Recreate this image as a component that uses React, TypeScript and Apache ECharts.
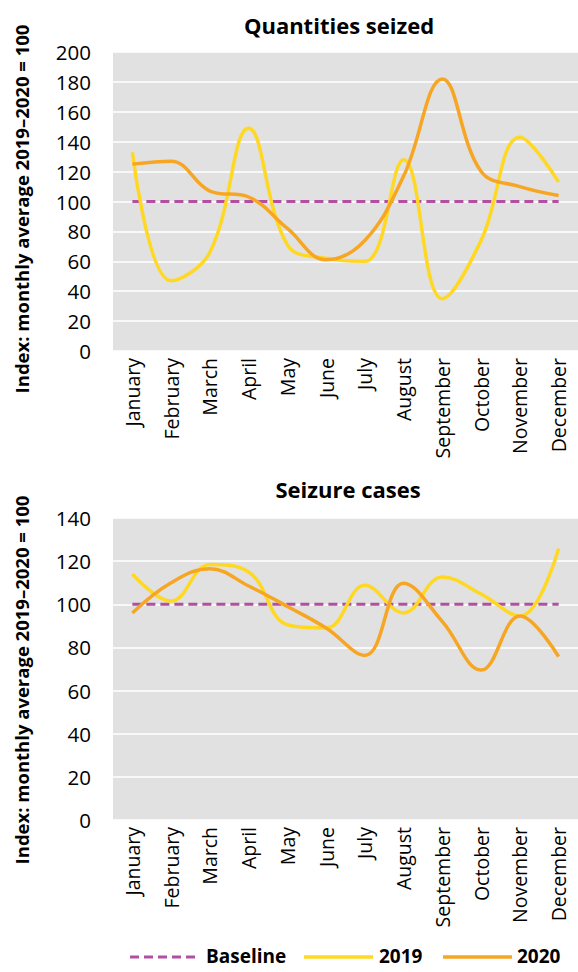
import React, { useEffect, useRef } from "react";
import * as echarts from "echarts";

const months = ["January", "February", "March", "April", "May", "June", "July", "August", "September", "October", "November", "December"];

const qty2019 = [133, 47, 66, 149, 71, 62, 60, 128, 35, 74, 143, 113];
const qty2020 = [125, 127, 107, 103, 82, 61, 74, 117, 182, 120, 110, 104];
const cases2019 = [114, 101.5, 118.5, 115, 90.5, 89, 108.8, 96, 112.7, 104.7, 94.5, 125.9];
const cases2020 = [96, 110, 116.5, 108.5, 99, 89, 76.3, 109.8, 92, 69.5, 94.6, 75.7];
const baseline = [100, 100, 100, 100, 100, 100, 100, 100, 100, 100, 100, 100];

const titles = ["Quantities seized", "Seizure cases"];
const yTitle = "Index: monthly average 2019–2020 = 100";
const legendNames = ["Baseline", "2019", "2020"];

const FONT = "'Open Sans', sans-serif";
const C_BASE = "#B24FA0";
const C_2019 = "#FFD824";
const C_2020 = "#F7A623";
const DASH = [9, 5];

export default function App() {
  const ref = useRef<HTMLDivElement>(null);
  useEffect(() => {
    if (!ref.current) return;
    const chart = echarts.init(ref.current, null, { renderer: "svg" });
    const grids = [
      { left: 113, top: 52, width: 478, height: 299 },
      { left: 113, top: 518, width: 478, height: 302 },
    ];
    const xAxis = grids.map((_, i) => ({
      type: "category",
      gridIndex: i,
      data: months,
      boundaryGap: true,
      axisLine: { show: false },
      axisTick: { show: false },
      axisLabel: { rotate: 90, fontFamily: FONT, fontSize: 19.5, color: "#000", margin: 7, interval: 0 },
    }));
    const yMax = [200, 140];
    const yAxis = grids.map((_, i) => ({
      type: "value",
      gridIndex: i,
      min: 0,
      max: yMax[i],
      interval: 20,
      axisLine: { show: false },
      axisTick: { show: false },
      axisLabel: { fontFamily: FONT, fontSize: 20.5, color: "#000", margin: 22 },
      splitLine: { lineStyle: { color: "#ffffff", width: 1.5 } },
    }));
    const mk = (name: string, data: number[], idx: number, color: string, dashed: boolean) => ({
      name,
      type: "line",
      xAxisIndex: idx,
      yAxisIndex: idx,
      data,
      smooth: dashed ? false : 0.4,
      symbol: "none",
      lineStyle: { color, width: dashed ? 3 : 3.5, type: dashed ? DASH : "solid" },
      itemStyle: { color },
      z: dashed ? 2 : 3,
    });
    const legendX = [
      { line: [130, 200], text: 206 },
      { line: [304, 373], text: 379 },
      { line: [443, 512], text: 517 },
    ];
    const legendColors = [C_BASE, C_2019, C_2020];
    const LY = 956;
    const legendGraphics: any[] = [];
    legendX.forEach((p, i) => {
      legendGraphics.push({
        type: "line",
        shape: { x1: p.line[0], y1: LY + 1, x2: p.line[1], y2: LY + 1 },
        style: { stroke: legendColors[i], lineWidth: i === 0 ? 3 : 3.5, lineDash: i === 0 ? DASH : null },
      });
      legendGraphics.push({
        type: "text",
        x: p.text,
        y: LY,
        style: { text: legendNames[i], fontFamily: FONT, fontSize: 19, fontWeight: "bold", fill: "#000", textAlign: "left", textVerticalAlign: "middle" },
      });
    });
    const option = {
      animation: false,
      grid: grids.map((g) => ({ ...g, show: true, backgroundColor: "#E1E1E1", borderWidth: 0 })),
      xAxis,
      yAxis,
      series: [
        mk("Baseline", baseline, 0, C_BASE, true),
        mk("2019", qty2019, 0, C_2019, false),
        mk("2020", qty2020, 0, C_2020, false),
        mk("Baseline", baseline, 1, C_BASE, true),
        mk("2019", cases2019, 1, C_2019, false),
        mk("2020", cases2020, 1, C_2020, false),
      ],
      graphic: [
        { type: "text", x: 339, y: 25, style: { text: titles[0], fontFamily: FONT, fontSize: 22, fontWeight: "bold", fill: "#000", textAlign: "center", textVerticalAlign: "middle" } },
        { type: "text", x: 348, y: 489, style: { text: titles[1], fontFamily: FONT, fontSize: 22, fontWeight: "bold", fill: "#000", textAlign: "center", textVerticalAlign: "middle" } },
        { type: "text", x: 21, y: 209, rotation: Math.PI / 2, style: { text: yTitle, fontFamily: FONT, fontSize: 18.5, fontWeight: "bold", fill: "#000", textAlign: "center", textVerticalAlign: "middle" } },
        { type: "text", x: 21, y: 680, rotation: Math.PI / 2, style: { text: yTitle, fontFamily: FONT, fontSize: 18.5, fontWeight: "bold", fill: "#000", textAlign: "center", textVerticalAlign: "middle" } },
        ...legendGraphics,
      ],
    };
    chart.setOption(option as any);
    return () => chart.dispose();
  }, []);
  return <div ref={ref} style={{ position: "absolute", left: 0, top: 0, width: 578, height: 972 }} />;
}
